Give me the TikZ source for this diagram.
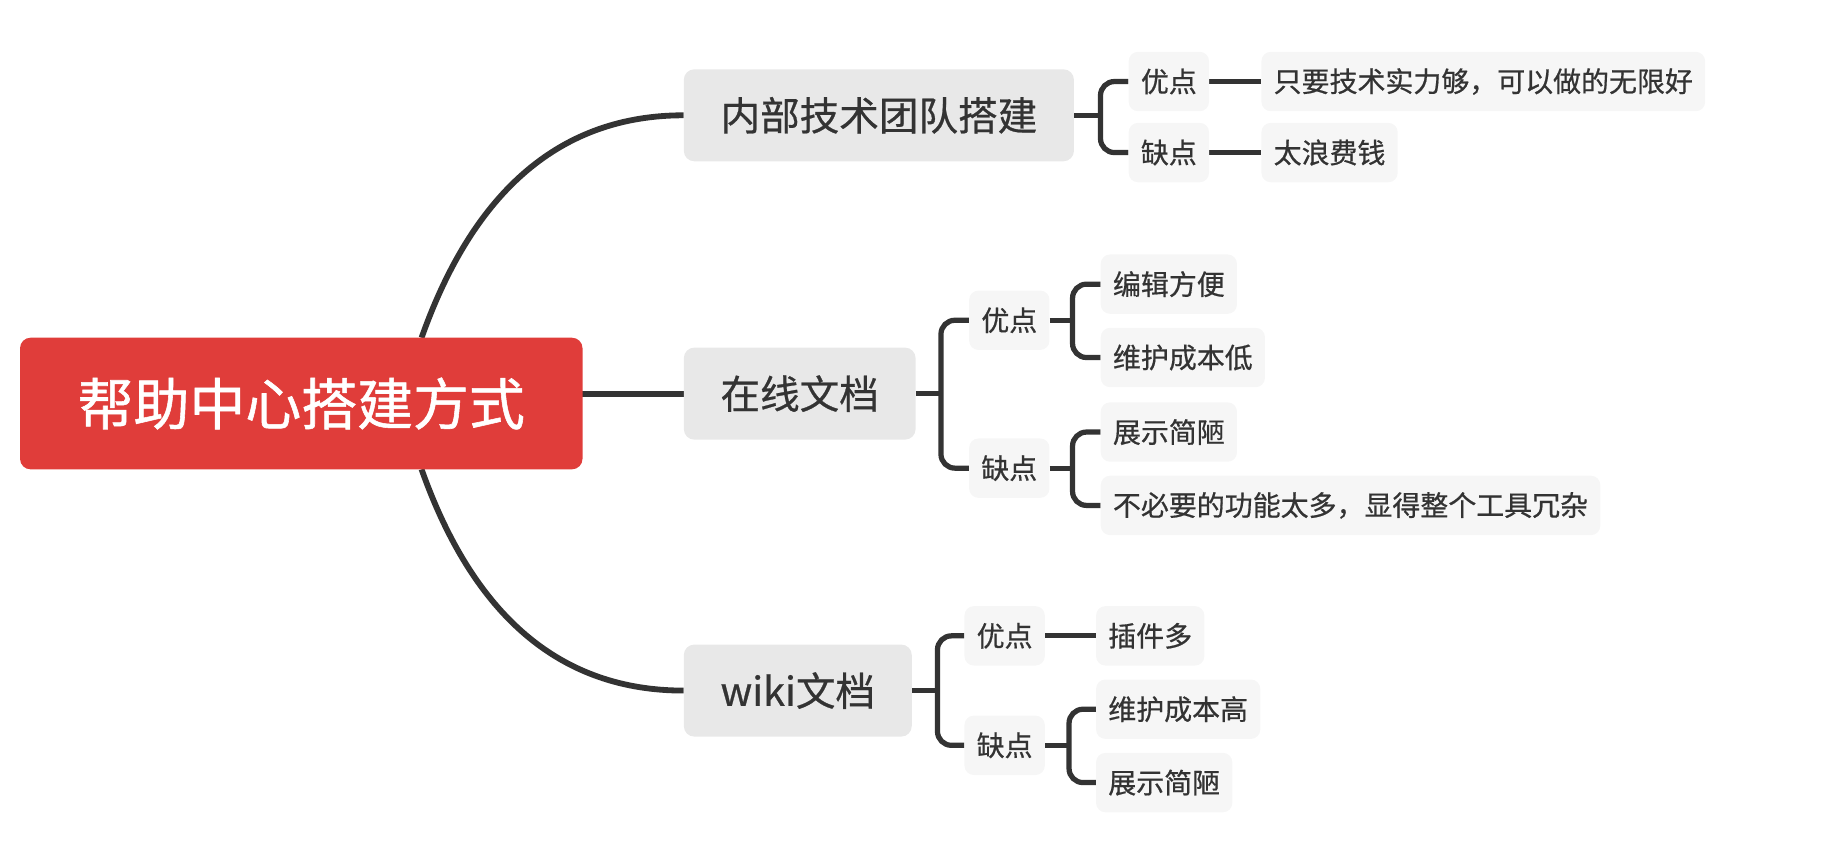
\documentclass[tikz,border=0pt]{standalone}
\usepackage{fontspec}
\newfontfamily\cjk[FakeBold=0.6,AutoFakeBold=0]{Noto Sans CJK SC}
\newfontfamily\cjkroot[FakeBold=1.0]{Noto Sans CJK SC}
\usetikzlibrary{calc}
\definecolor{rootred}{RGB}{224,61,58}
\definecolor{mainfill}{RGB}{232,232,232}
\definecolor{leaffill}{RGB}{246,246,246}
\definecolor{ink}{RGB}{51,51,51}
\pgfdeclarelayer{bg}
\pgfsetlayers{bg,main}
\begin{document}
\begin{tikzpicture}[x=1pt,y=-1pt,
  rootbox/.style={fill=rootred, rounded corners=9pt, text=white, font=\cjkroot\fontsize{48}{48}\selectfont, minimum height=113pt, minimum width=483pt, inner xsep=0pt, inner ysep=0pt, anchor=west},
  mainbox/.style={fill=mainfill, rounded corners=9pt, text=ink, font=\cjk\fontsize{34}{34}\selectfont, minimum height=79pt, inner xsep=31.5pt, inner ysep=0pt, anchor=west},
  leaf/.style={fill=leaffill, rounded corners=8pt, text=ink, font=\cjk\fontsize{24}{24}\selectfont, minimum height=51pt, inner xsep=10.5pt, inner ysep=0pt, anchor=west},
  trunk/.style={draw=ink, line width=5pt},
  twig/.style={draw=ink, line width=4.5pt, rounded corners=12pt},
]
\useasboundingbox (0,0) rectangle (1568,726);

\node[rootbox] (root) at (17,346.5) {帮助中心搭建方式};
\node[mainbox] (b1) at (587,99) {内部技术团队搭建};
\node[mainbox] (b2) at (587,338) {在线文档};
\node[mainbox] (b3) at (587,593) {wiki文档};

\node[leaf] (b1p) at (969,70) {优点};
\node[leaf] (b1n) at (969,131) {缺点};
\node[leaf] (b1p1) at (1083,70) {只要技术实力够，可以做的无限好};
\node[leaf] (b1n1) at (1083,131) {太浪费钱};

\node[leaf] (b2p) at (832,275) {优点};
\node[leaf] (b2n) at (832,402) {缺点};
\node[leaf] (b2p1) at (945,244) {编辑方便};
\node[leaf] (b2p2) at (945,307) {维护成本低};
\node[leaf] (b2n1) at (945,371) {展示简陋};
\node[leaf] (b2n2) at (945,434) {不必要的功能太多，显得整个工具冗杂};

\node[leaf] (b3p) at (828,546) {优点};
\node[leaf] (b3n) at (828,640) {缺点};
\node[leaf] (b3p1) at (941,546) {插件多};
\node[leaf] (b3n1) at (941,609) {维护成本高};
\node[leaf] (b3n2) at (941,672) {展示简陋};

\coordinate (s1) at (362,290);
\coordinate (s2) at (500,338);
\coordinate (s3) at (362,403);
\coordinate (k1) at (945,99);
\coordinate (k2) at (808,338);
\coordinate (k2p) at (921,275);
\coordinate (k2n) at (921,402);
\coordinate (k3) at (805,593);
\coordinate (k3n) at (918,640);

\begin{pgfonlayer}{bg}
\draw[trunk] (s1) .. controls (407,163) and (482,99) .. (b1.west);
\draw[trunk] (s2) -- (b2.west);
\draw[trunk] (s3) .. controls (407,530) and (482,593) .. (b3.west);

\draw[twig] (b1.east) -- (k1);
\draw[twig] (b1p.west) -| (k1) |- (b1n.west);
\draw[twig] (b1p.east) -- (b1p1.west);
\draw[twig] (b1n.east) -- (b1n1.west);

\draw[twig] (b2.east) -- (k2);
\draw[twig] (b2p.west) -| (k2) |- (b2n.west);
\draw[twig] (b2p.east) -- (k2p);
\draw[twig] (b2p1.west) -| (k2p) |- (b2p2.west);
\draw[twig] (b2n.east) -- (k2n);
\draw[twig] (b2n1.west) -| (k2n) |- (b2n2.west);

\draw[twig] (b3.east) -- (k3);
\draw[twig] (b3p.west) -| (k3) |- (b3n.west);
\draw[twig] (b3p.east) -- (b3p1.west);
\draw[twig] (b3n.east) -- (k3n);
\draw[twig] (b3n1.west) -| (k3n) |- (b3n2.west);
\end{pgfonlayer}
\end{tikzpicture}
\end{document}
